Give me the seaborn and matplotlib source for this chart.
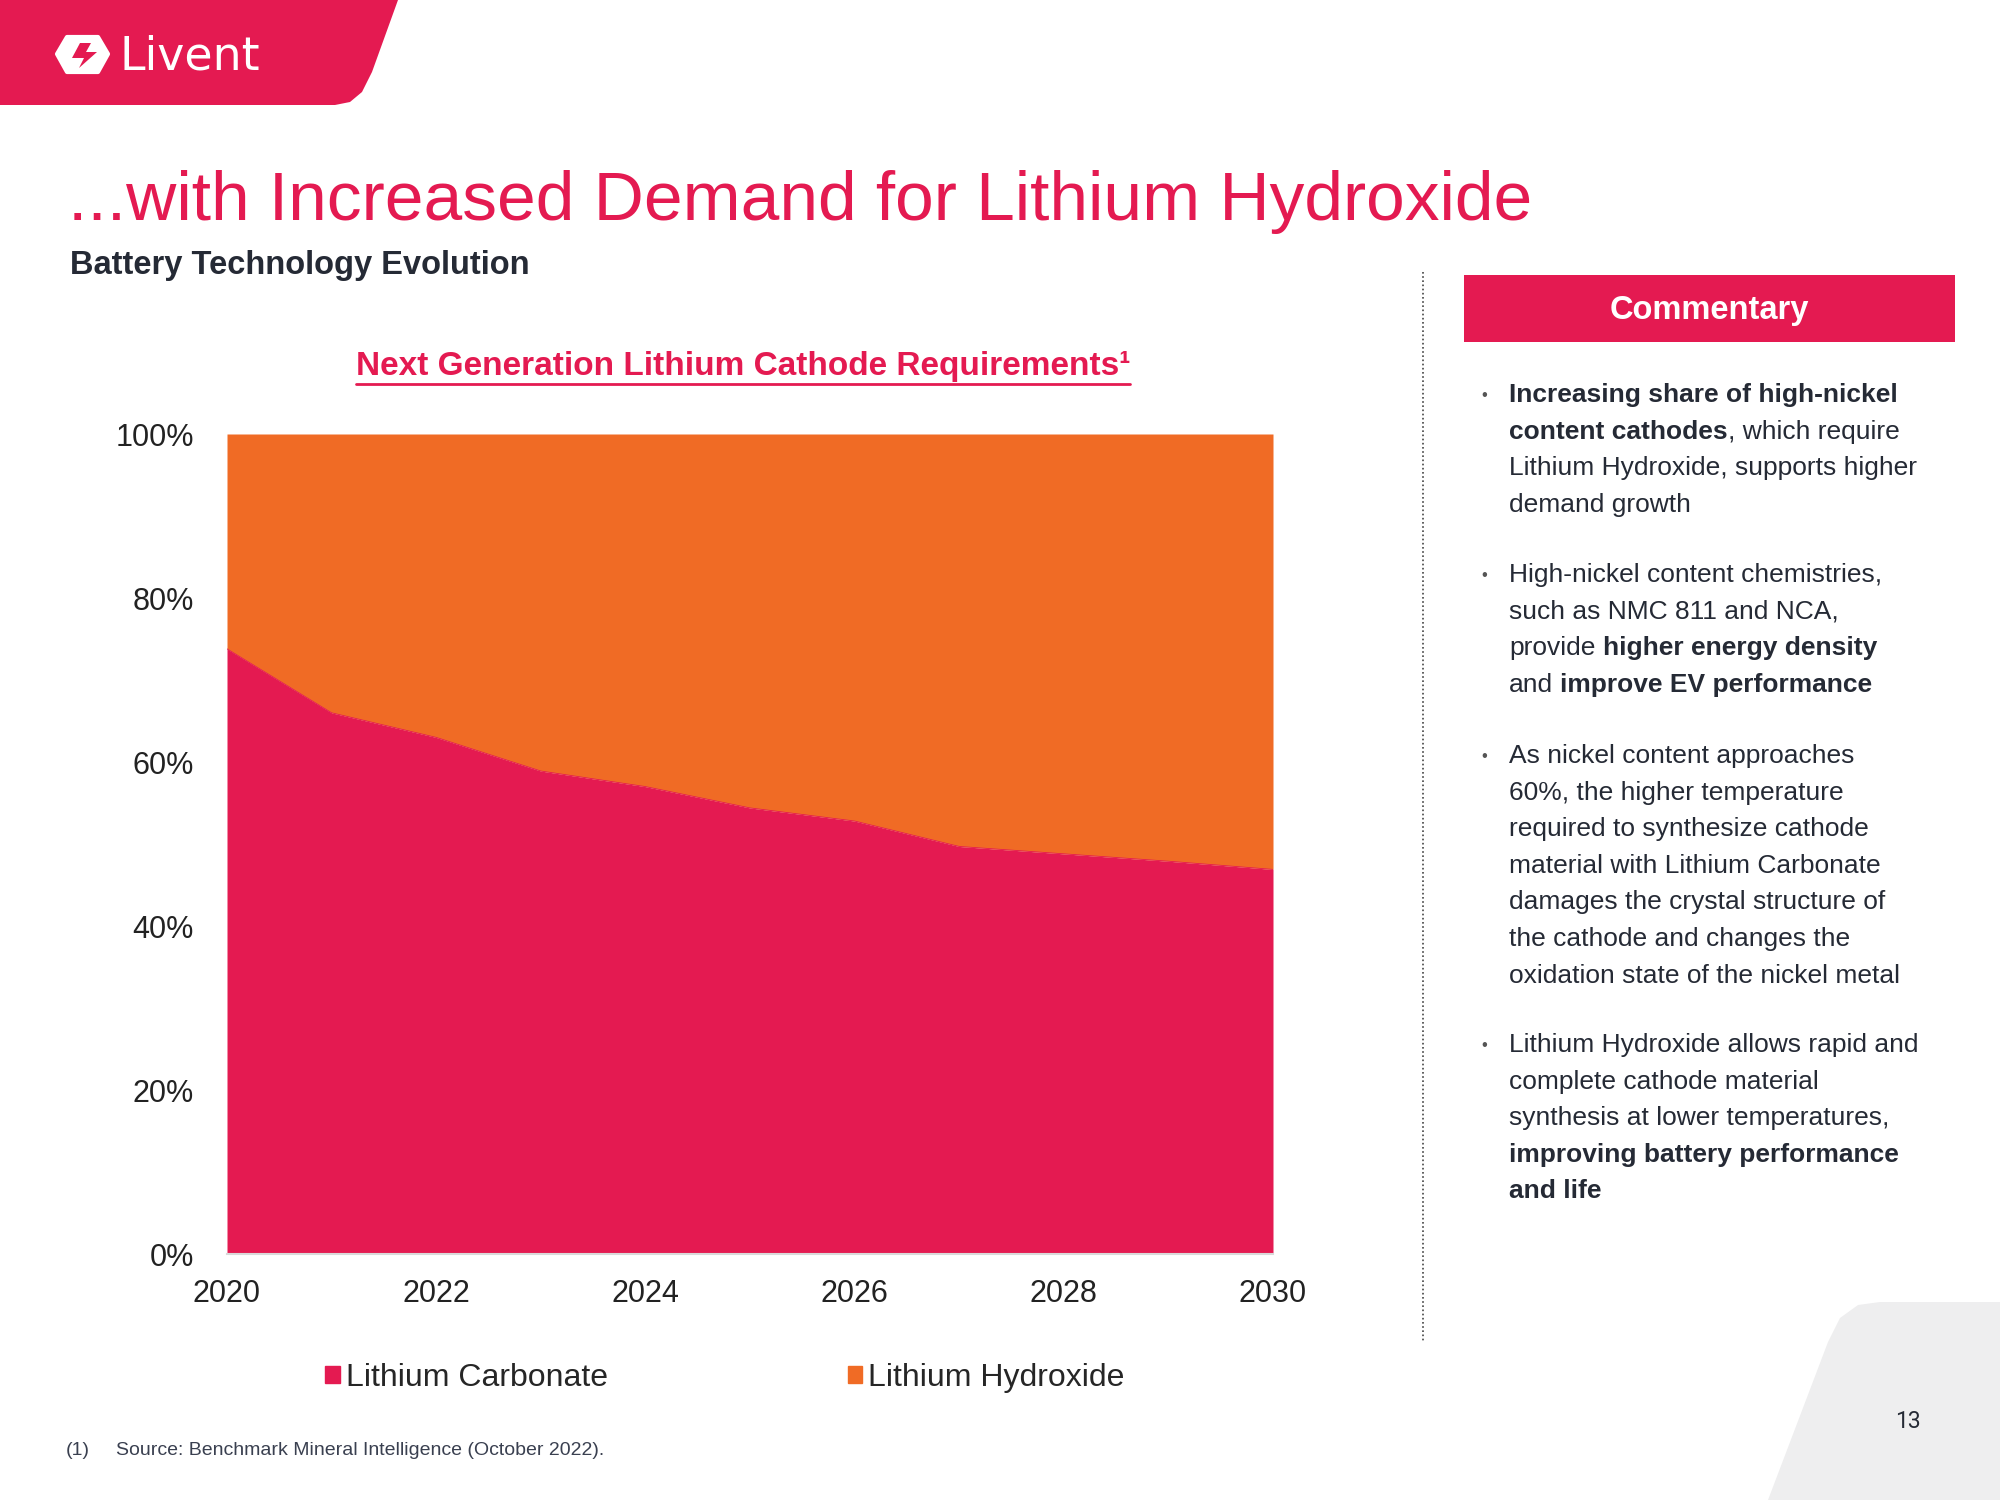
import numpy as np
import pandas as pd
import matplotlib.pyplot as plt
import matplotlib.patches as mpatches
from matplotlib.lines import Line2D
import seaborn as sns

# data (share of cathode lithium demand, %)
years = [2020, 2021, 2022, 2023, 2024, 2025, 2026, 2027, 2028, 2029, 2030]
carbonate = [73.8, 66.0, 63.0, 58.9, 57.0, 54.4, 52.8, 49.7, 48.8, 47.9, 46.9]
hydroxide = [26.2, 34.0, 37.0, 41.1, 43.0, 45.6, 47.2, 50.3, 51.2, 52.1, 53.1]
series_names = ['Lithium Carbonate', 'Lithium Hydroxide']
x_ticks = [2020, 2022, 2024, 2026, 2028, 2030]
y_ticks = [0, 20, 40, 60, 80, 100]

RED = '#E41A51'
ORANGE = '#F06B25'
NAVY = '#252A35'
NARROW = ['Liberation Sans Narrow', 'Liberation Sans', 'DejaVu Sans']
ARIAL = ['Liberation Sans', 'DejaVu Sans']

sns.set_theme(style='white')
plt.rcParams['font.family'] = ARIAL

fig = plt.figure(figsize=(20, 15), dpi=100)
fig.patch.set_facecolor('white')

# page overlay in pixel coords (y down)
bg = fig.add_axes([0, 0, 1, 1], zorder=0)
bg.set_xlim(0, 2000)
bg.set_ylim(1500, 0)
bg.axis('off')

# logo banner
banner = [(0, 0), (398, 0), (372, 72), (362, 92), (350, 102), (335, 105), (0, 105)]
bg.add_patch(mpatches.Polygon(banner, closed=True, color=RED, lw=0))
hexagon = [(57, 54), (67, 37), (98, 37), (108, 54), (98, 72), (67, 72)]
bg.add_patch(mpatches.Polygon(hexagon, closed=True, facecolor='white', edgecolor='white',
                              lw=3, joinstyle='round'))
bolt = [(80, 43), (91, 43), (86, 52), (97, 52), (79, 68), (84, 58), (72, 58)]
bg.add_patch(mpatches.Polygon(bolt, closed=True, color=RED, lw=0))
bg.text(120, 69, 'Livent', color='white', fontsize=33, family=['DejaVu Sans'],
        va='baseline', ha='left')

# grey corner at bottom right
corner = [(1768, 1500), (1828, 1342), (1840, 1318), (1858, 1305), (1880, 1302),
          (2000, 1302), (2000, 1500)]
bg.add_patch(mpatches.Polygon(corner, closed=True, color='#EEEEEF', lw=0))
bg.text(1908, 1422, '13', color=NAVY, fontsize=16.5, family=['Roboto', 'DejaVu Sans'],
        ha='center', va='center')

# titles
bg.text(68, 220, '...with Increased Demand for Lithium Hydroxide', color=RED, fontsize=50,
        family=NARROW, ha='left', va='baseline')
bg.text(70, 274, 'Battery Technology Evolution', color=NAVY, fontsize=23.5,
        fontweight='bold', ha='left', va='baseline')
ct = bg.text(743, 375, 'Next Generation Lithium Cathode Requirements\u00b9', color=RED,
             fontsize=24, fontweight='bold', ha='center', va='baseline')

# chart
ax = fig.add_axes([227 / 2000, 1 - 1254 / 1500, (1273 - 227) / 2000, (1254 - 434) / 1500], zorder=1)
df = pd.DataFrame({'year': years, 'carbonate': carbonate, 'hydroxide': hydroxide})
ax.stackplot(df['year'], df['carbonate'], df['hydroxide'], colors=[RED, ORANGE], linewidth=0)
sns.lineplot(data=df, x='year', y='carbonate', ax=ax, color=RED, linewidth=0.6)
if ax.get_legend() is not None:
    ax.get_legend().remove()
ax.set_xlim(2020, 2030)
ax.set_ylim(0, 100)
ax.set_xlabel('')
ax.set_ylabel('')
ax.set_xticks(x_ticks)
ax.set_xticklabels([str(v) for v in x_ticks], family=NARROW, fontsize=22, color='#222222')
ax.set_yticks(y_ticks)
ax.set_yticklabels([f'{v}%' for v in y_ticks], family=NARROW, fontsize=22, color='#222222')
ax.tick_params(length=0)
ax.tick_params(axis='y', pad=24)
ax.tick_params(axis='x', pad=18)
for s in ['top', 'right', 'left']:
    ax.spines[s].set_visible(False)
ax.spines['bottom'].set_color('#D9D9D9')
ax.spines['bottom'].set_linewidth(1.5)
ax.patch.set_visible(False)

handles = [mpatches.Patch(color=RED), mpatches.Patch(color=ORANGE)]
fig.legend(handles, series_names, loc='center', bbox_to_anchor=(725 / 2000, 1 - 1378 / 1500),
           ncol=2, frameon=False, prop={'family': NARROW, 'size': 23},
           handlelength=0.45, handleheight=0.45, handletextpad=0.2, columnspacing=7.5)

bg.text(66, 1455, '(1)', color='#3A4050', fontsize=14, family=NARROW, va='baseline')
bg.text(116, 1455, 'Source: Benchmark Mineral Intelligence (October 2022).', color='#3A4050',
        fontsize=14, family=NARROW, va='baseline')

# dotted divider
bg.add_line(Line2D([1423, 1423], [272, 1342], color='#444444', lw=1.2, linestyle=(0, (1, 1.5))))

# commentary box
bg.add_patch(mpatches.Rectangle((1464, 275), 491, 67, color=RED, lw=0))
bg.text(1709, 311, 'Commentary', color='white', fontsize=23.5, fontweight='bold',
        ha='center', va='center')

renderer = fig.canvas.get_renderer()
px_per_unit = fig.bbox.width / 2000


def text_w(s, weight, size):
    t = bg.text(0, 0, s, fontsize=size, fontweight=weight)
    w = t.get_window_extent(renderer).width / px_per_unit
    t.remove()
    return w


BODY = 19
bullets = [
    [[('Increasing share of high-nickel', True)],
     [('content cathodes', True), (', which require', False)],
     [('Lithium Hydroxide, supports higher', False)],
     [('demand growth', False)]],
    [[('High-nickel content chemistries,', False)],
     [('such as NMC 811 and NCA,', False)],
     [('provide', False), (' higher energy density', True)],
     [('and', False), (' improve EV performance', True)]],
    [[('As nickel content approaches', False)],
     [('60%, the higher temperature', False)],
     [('required to synthesize cathode', False)],
     [('material with Lithium Carbonate', False)],
     [('damages the crystal structure of', False)],
     [('the cathode and changes the', False)],
     [('oxidation state of the nickel metal', False)]],
    [[('Lithium Hydroxide allows rapid and', False)],
     [('complete cathode material', False)],
     [('synthesis at lower temperatures,', False)],
     [('improving battery performance', True)],
     [('and life', True)]],
]
bullet_tops = [402, 582, 763, 1052]
line_gap = 36.6
space_w = {True: text_w('x x', 'bold', BODY) - text_w('xx', 'bold', BODY),
           False: text_w('x x', 'normal', BODY) - text_w('xx', 'normal', BODY)}

for top, lines in zip(bullet_tops, bullets):
    bg.text(1484, top - 2, '\u2022', color='#555555', fontsize=12, ha='center', va='baseline')
    for i, pieces in enumerate(lines):
        x = 1509
        y = top + i * line_gap
        for txt, bold in pieces:
            weight = 'bold' if bold else 'normal'
            if txt.startswith(' '):
                x += space_w[bold]
                txt = txt.lstrip()
            t = bg.text(x, y, txt, color=NAVY, fontsize=BODY, fontweight=weight,
                        ha='left', va='baseline')
            x += t.get_window_extent(renderer).width / px_per_unit

# underline for chart title
bb = ct.get_window_extent(renderer)
x0 = bb.x0 / px_per_unit
x1 = bb.x1 / px_per_unit
bg.add_line(Line2D([x0, x1], [384, 384], color=RED, lw=2))

fig.savefig('out.png', dpi=100, facecolor='white')
